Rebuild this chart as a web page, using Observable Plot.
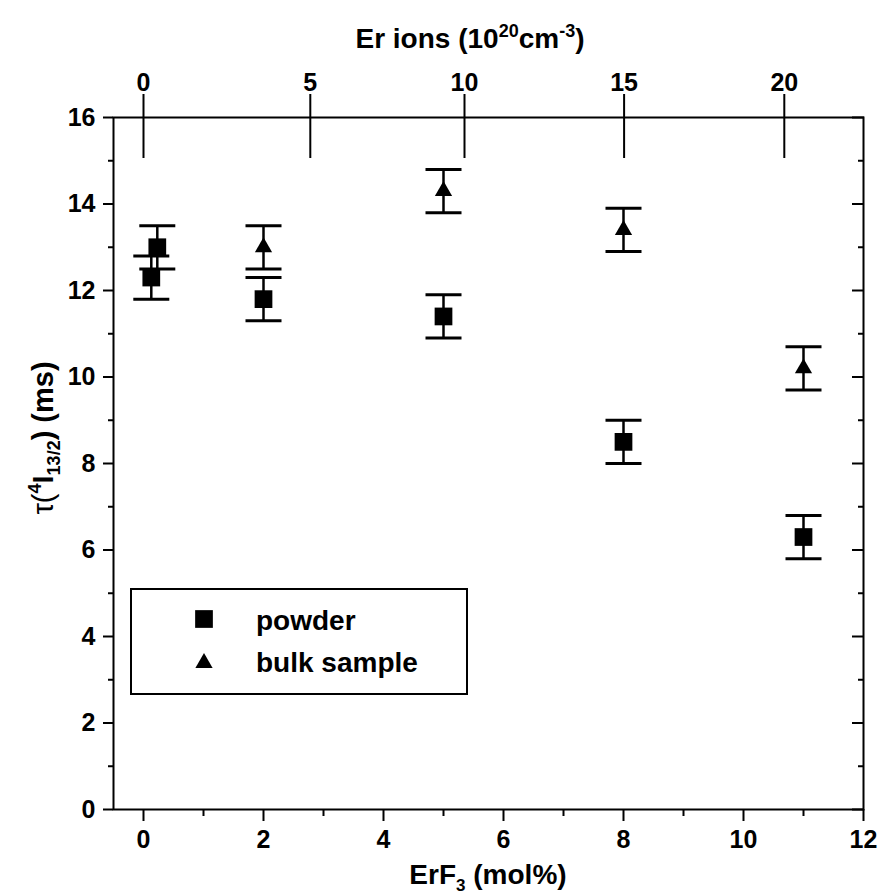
<!DOCTYPE html>
<html>
<head>
<meta charset="utf-8">
<script src="https://cdn.jsdelivr.net/npm/d3@7"></script>
<script src="https://cdn.jsdelivr.net/npm/@observablehq/plot@0.6"></script>
<style>
  html, body { margin: 0; padding: 0; background: #fff; }
  #chart { width: 881px; height: 894px; }
</style>
</head>
<body>
<div id="chart"></div>
<script>
// ---- data ----
const powderX   = [0.13, 0.23, 2, 5, 8, 11];
const powderY   = [12.3, 13.0, 11.8, 11.4, 8.5, 6.3];
const powderErr = [0.5, 0.5, 0.5, 0.5, 0.5, 0.5];

const bulkX   = [2, 5, 8, 11];
const bulkY   = [13.0, 14.3, 13.4, 10.2];
const bulkErr = [0.5, 0.5, 0.5, 0.5];

const xMajor = [0, 2, 4, 6, 8, 10, 12];
const xMinor = [1, 3, 5, 7, 9, 11];
const yMajor = [0, 2, 4, 6, 8, 10, 12, 14, 16];
const yMinor = [1, 3, 5, 7, 9, 11, 13, 15];

// top axis: Er ion concentration (10^20 cm^-3) and its position on the ErF3 (mol%) scale
const erLabels = [0, 5, 10, 15, 20];
const erPos    = [0, 2.78, 5.35, 8.01, 10.68];

const seriesNames = ["powder", "bulk sample"];

// ---- build tables ----
const powder = powderX.map((x, i) => ({x, y: powderY[i], e: powderErr[i]}));
const bulk = bulkX.map((x, i) => ({x, y: bulkY[i], e: bulkErr[i]}));
const all = powder.concat(bulk);
const caps = all.flatMap(d => [{x: d.x, y: d.y - d.e}, {x: d.x, y: d.y + d.e}]);
const erMap = new Map(erPos.map((p, i) => [p, String(erLabels[i])]));

const capSymbol = {
  draw(ctx, size) {
    const w = Math.sqrt(size / Math.PI);
    ctx.moveTo(-w, 0);
    ctx.lineTo(w, 0);
  }
};

const FONT = "'Liberation Sans', Arial, Helvetica, sans-serif";
const blank = () => "";

const plot = Plot.plot({
  width: 881,
  height: 894,
  marginLeft: 113,
  marginRight: 18,
  marginTop: 117,
  marginBottom: 85,
  x: {domain: [-0.5, 12]},
  y: {domain: [0, 16]},
  style: {fontFamily: FONT, fontSize: "25px", fontWeight: "bold", color: "black", background: "white"},
  marks: [
    Plot.frame({stroke: "black", strokeWidth: 2}),
    // bottom axis
    Plot.axisX({anchor: "bottom", ticks: xMajor, tickSize: 12, tickPadding: 9, strokeWidth: 2, label: null, tickFormat: d => String(d)}),
    Plot.axisX({anchor: "bottom", ticks: xMinor, tickSize: 7, strokeWidth: 2, label: null, tickFormat: blank}),
    // left axis
    Plot.axisY({anchor: "left", ticks: yMajor, tickSize: 10, tickPadding: 8, strokeWidth: 2, label: null, tickFormat: d => String(d)}),
    Plot.axisY({anchor: "left", ticks: yMinor, tickSize: 5, strokeWidth: 2, label: null, tickFormat: blank}),
    // right axis (inward ticks)
    Plot.axisY({anchor: "right", ticks: yMajor, tickSize: -12, strokeWidth: 2, label: null, tickFormat: blank}),
    Plot.axisY({anchor: "right", ticks: yMinor, tickSize: -6, strokeWidth: 2, label: null, tickFormat: blank}),
    // top axis: Er ions, ticks crossing the frame
    Plot.axisX({anchor: "top", ticks: erPos, tickSize: 24, tickPadding: 3, strokeWidth: 2, label: null, tickFormat: d => erMap.get(d)}),
    Plot.axisX({anchor: "top", ticks: erPos, tickSize: -40, strokeWidth: 2, label: null, tickFormat: blank}),
    // error bars
    Plot.ruleX(all, {x: "x", y1: d => d.y - d.e, y2: d => d.y + d.e, stroke: "black", strokeWidth: 2.5}),
    Plot.dot(caps, {x: "x", y: "y", symbol: capSymbol, r: 18, stroke: "black", strokeWidth: 3, fill: "none"}),
    // markers
    Plot.dot(powder, {x: "x", y: "y", symbol: "square", r: 10, fill: "black", stroke: "none"}),
    Plot.dot(bulk, {x: "x", y: "y", symbol: "triangle", r: 6.4, fill: "black", stroke: "none"})
  ]
});

document.getElementById("chart").appendChild(plot);

// ---- titles and legend (text with super/subscripts) ----
const svg = d3.select(plot);
const g = svg.append("g").attr("font-family", FONT).attr("font-weight", "bold").attr("fill", "black");

// top title
const tt = g.append("text").attr("x", 470).attr("y", 48).attr("text-anchor", "middle").attr("font-size", 28);
tt.append("tspan").text("Er ions (10");
tt.append("tspan").attr("font-size", 18).attr("dy", -11).text("20");
tt.append("tspan").attr("dy", 11).text("cm");
tt.append("tspan").attr("font-size", 18).attr("dy", -11).text("-3");
tt.append("tspan").attr("dy", 11).text(")");

// bottom title
const bt = g.append("text").attr("x", 488).attr("y", 884).attr("text-anchor", "middle").attr("font-size", 28);
bt.append("tspan").text("ErF");
bt.append("tspan").attr("font-size", 17).attr("dy", 7).text("3");
bt.append("tspan").attr("dy", -7).text(" (mol%)");

// y title
const yt = g.append("text").attr("transform", "translate(53,438) rotate(-90)").attr("text-anchor", "middle").attr("font-size", 29);
yt.append("tspan").attr("font-weight", "normal").text("τ(");
yt.append("tspan").attr("font-size", 18).attr("dy", -12).text("4");
yt.append("tspan").attr("dy", 12).text("I");
yt.append("tspan").attr("font-size", 18).attr("dy", 7).text("13/2");
yt.append("tspan").attr("dy", -7).text(") (ms)");

// legend
const lg = g.append("g");
lg.append("rect").attr("x", 131).attr("y", 589).attr("width", 336).attr("height", 105)
  .attr("fill", "white").attr("stroke", "black").attr("stroke-width", 2);
lg.append("path").attr("transform", "translate(204,619)")
  .attr("d", d3.symbol(d3.symbolSquare, Math.PI * 10 * 10)()).attr("fill", "black");
lg.append("path").attr("transform", "translate(204,663)")
  .attr("d", d3.symbol(d3.symbolTriangle, Math.PI * 6.4 * 6.4)()).attr("fill", "black");
lg.append("text").attr("x", 256).attr("y", 630).attr("text-anchor", "start").attr("font-size", 28).text(seriesNames[0]);
lg.append("text").attr("x", 256).attr("y", 672).attr("text-anchor", "start").attr("font-size", 28).text(seriesNames[1]);
</script>
</body>
</html>
